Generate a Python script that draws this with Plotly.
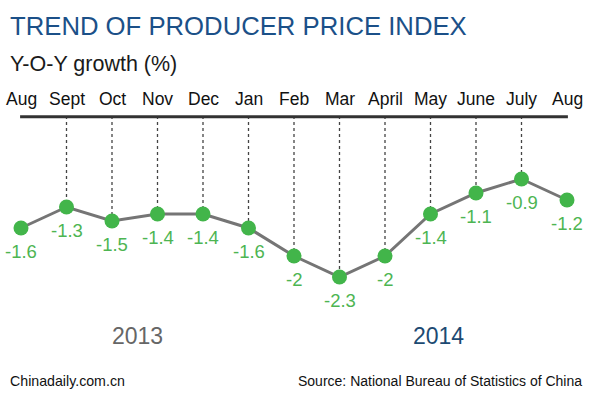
import plotly.graph_objects as go

months = ["Aug", "Sept", "Oct", "Nov", "Dec", "Jan", "Feb", "Mar", "April", "May", "June", "July", "Aug"]
values = [-1.6, -1.3, -1.5, -1.4, -1.4, -1.6, -2.0, -2.3, -2.0, -1.4, -1.1, -0.9, -1.2]
labels = ["-1.6", "-1.3", "-1.5", "-1.4", "-1.4", "-1.6", "-2", "-2.3", "-2", "-1.4", "-1.1", "-0.9", "-1.2"]
years = ["2013", "2014"]

W, H = 592, 397
FONT = "Liberation Sans, Arial"
x = list(range(len(months)))

fig = go.Figure()

# dotted guide lines
for i in range(1, len(months) - 1):
    fig.add_shape(type="line", x0=i, x1=i, y0=0, y1=values[i], xref="x", yref="y",
                  line=dict(color="#444444", width=1.3, dash="dot"), layer="below")

# thick baseline
fig.add_shape(type="line", x0=-0.02, x1=12.02, y0=-0.01, y1=-0.01, xref="x", yref="y",
              line=dict(color="#333333", width=3))

fig.add_trace(go.Scatter(
    x=x, y=values, mode="lines+markers",
    line=dict(color="#757575", width=3),
    marker=dict(color="#42b54a", size=15),
    hoverinfo="skip", cliponaxis=False,
))

# value labels
for i, (v, t) in enumerate(zip(values, labels)):
    fig.add_annotation(x=i, y=v, xref="x", yref="y", text=t, showarrow=False,
                       yshift=-23, xanchor="center", yanchor="middle",
                       font=dict(family=FONT, size=18.5, color="#4db552"))

# month labels
for i, m in enumerate(months):
    fig.add_annotation(x=i, y=(116 - 98.5) / 70, xref="x", yref="y", text=m, showarrow=False,
                       font=dict(family=FONT, size=17.5, color="#111111"),
                       xanchor="center", yanchor="middle")

fig.add_annotation(x=8 / W, y=1 - 26 / H, xref="paper", yref="paper",
                   text="TREND OF PRODUCER PRICE INDEX", showarrow=False,
                   xanchor="left", yanchor="middle",
                   font=dict(family=FONT, size=25.7, color="#1b5088"))
fig.add_annotation(x=8 / W, y=1 - 64 / H, xref="paper", yref="paper",
                   text="Y-O-Y growth (%)", showarrow=False,
                   xanchor="left", yanchor="middle",
                   font=dict(family=FONT, size=21.5, color="#1a1a1a"))

fig.add_annotation(x=137 / W, y=1 - 336 / H, xref="paper", yref="paper",
                   text=years[0], showarrow=False, xanchor="center", yanchor="middle",
                   font=dict(family=FONT, size=23, color="#666666"))
fig.add_annotation(x=438 / W, y=1 - 336 / H, xref="paper", yref="paper",
                   text=years[1], showarrow=False, xanchor="center", yanchor="middle",
                   font=dict(family=FONT, size=23, color="#1c4a72"))

fig.add_annotation(x=8 / W, y=1 - 381 / H, xref="paper", yref="paper",
                   text="Chinadaily.com.cn", showarrow=False, xanchor="left", yanchor="middle",
                   font=dict(family=FONT, size=14.2, color="#111111"))
fig.add_annotation(x=584 / W, y=1 - 381 / H, xref="paper", yref="paper",
                   text="Source: National Bureau of Statistics of China", showarrow=False,
                   xanchor="right", yanchor="middle",
                   font=dict(family=FONT, size=14, color="#111111"))

px_per_x = 546 / 12
fig.update_xaxes(range=[-21 / px_per_x, 12 + 25 / px_per_x], visible=False, fixedrange=True)
fig.update_yaxes(range=[(116 - H) / 70, 116 / 70], visible=False, fixedrange=True)
fig.update_layout(width=W, height=H, margin=dict(l=0, r=0, t=0, b=0),
                  paper_bgcolor="white", plot_bgcolor="white", showlegend=False)

fig.write_html("out.html", post_script="document.body.style.margin='0';",
               config={"displayModeBar": False})
